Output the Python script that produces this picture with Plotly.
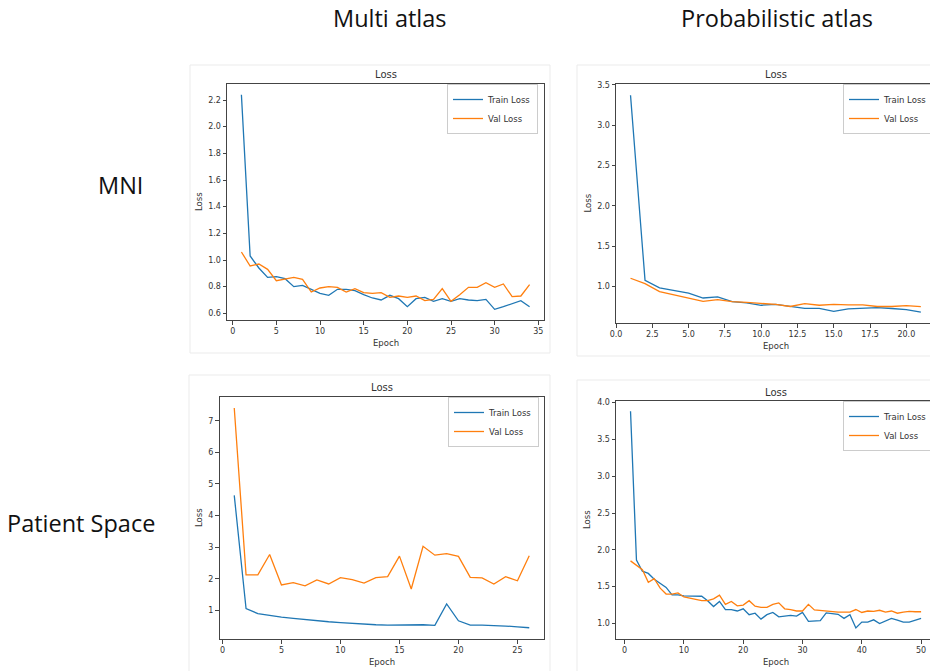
import plotly.graph_objects as go

# ---------------- data ----------------
mni_multi_epochs = list(range(1, 35))
mni_multi_train = [2.24, 1.03, 0.94, 0.87, 0.875, 0.86, 0.80, 0.81, 0.78, 0.75,
                   0.735, 0.78, 0.78, 0.77, 0.74, 0.715, 0.70, 0.735, 0.71, 0.65,
                   0.71, 0.72, 0.69, 0.71, 0.69, 0.71, 0.70, 0.695, 0.705, 0.63,
                   0.65, 0.675, 0.695, 0.65]
mni_multi_val = [1.06, 0.955, 0.97, 0.93, 0.845, 0.86, 0.87, 0.855, 0.76, 0.79,
                 0.80, 0.795, 0.76, 0.785, 0.755, 0.75, 0.755, 0.72, 0.73, 0.72,
                 0.73, 0.695, 0.705, 0.785, 0.69, 0.74, 0.795, 0.795, 0.83, 0.795,
                 0.82, 0.725, 0.73, 0.815]

mni_prob_epochs = list(range(1, 22))
mni_prob_train = [3.37, 1.074, 0.98, 0.945, 0.915, 0.855, 0.87, 0.81, 0.795, 0.765,
                  0.775, 0.75, 0.727, 0.727, 0.69, 0.72, 0.73, 0.735, 0.725, 0.71, 0.68]
mni_prob_val = [1.10, 1.033, 0.934, 0.895, 0.855, 0.814, 0.835, 0.81, 0.80, 0.785,
                0.775, 0.75, 0.785, 0.765, 0.777, 0.77, 0.77, 0.75, 0.75, 0.76, 0.748]

pat_multi_epochs = list(range(1, 27))
pat_multi_train = [4.64, 1.06, 0.905, 0.84, 0.79, 0.75, 0.71, 0.665, 0.645, 0.62,
                   0.59, 0.57, 0.55, 0.54, 0.55, 0.54, 0.55, 0.53, 1.21, 0.675,
                   0.54, 0.54, 0.53, 0.51, 0.485, 0.455]
pat_multi_val = [7.40, 2.13, 2.13, 2.77, 1.81, 1.88, 1.78, 1.965, 1.84, 2.04,
                 1.98, 1.87, 2.04, 2.07, 2.72, 1.68, 3.03, 2.75, 2.80, 2.71,
                 2.05, 2.03, 1.84, 2.07, 1.94, 2.73]

pat_prob_epochs = list(range(1, 51))
pat_prob_train = [3.88, 1.86, 1.71, 1.68, 1.60, 1.55, 1.49, 1.39, 1.39, 1.375,
                  1.375, 1.37, 1.37, 1.31, 1.23, 1.30, 1.19, 1.19, 1.17, 1.20,
                  1.12, 1.14, 1.06, 1.12, 1.15, 1.09, 1.095, 1.11, 1.10, 1.15,
                  1.03, 1.04, 1.04, 1.145, 1.14, 1.125, 1.07, 1.12, 0.94, 1.02,
                  1.02, 1.05, 1.00, 1.035, 1.07, 1.045, 1.02, 1.02, 1.05, 1.07]
pat_prob_val = [1.85, 1.795, 1.73, 1.56, 1.61, 1.48, 1.40, 1.40, 1.415, 1.36,
                1.345, 1.335, 1.31, 1.31, 1.335, 1.385, 1.26, 1.30, 1.24, 1.25,
                1.31, 1.235, 1.22, 1.22, 1.26, 1.28, 1.20, 1.19, 1.17, 1.17,
                1.26, 1.185, 1.175, 1.165, 1.16, 1.155, 1.155, 1.155, 1.19, 1.15,
                1.17, 1.165, 1.18, 1.155, 1.17, 1.14, 1.155, 1.165, 1.16, 1.16]

col_headers = ["Multi atlas", "Probabilistic atlas"]
row_headers = ["MNI", "Patient Space"]
series_names = ["Train Loss", "Val Loss"]
panel_title = "Loss"
x_label = "Epoch"
y_label = "Loss"

BLUE = "#1f77b4"
ORANGE = "#ff7f0e"
W, H = 930, 671


def px_x(v):
    return v / W


def px_y(v):
    return 1 - v / H


fig = go.Figure()

panels = [
    dict(ep=mni_multi_epochs, tr=mni_multi_train, va=mni_multi_val, ax="", leg="legend",
         xdom=(227, 544), ydom=(84, 320), xr=[-0.65, 35.65], yr=[0.55, 2.32],
         xdt=5, x0=0, xfmt="d", ydt=0.2, y0=0.6, yfmt=".1f", mirror_y=True,
         legpos=dict(x=px_x(538), y=px_y(84), xanchor="right", yanchor="top"),
         title_y=75, xlab_y=343, ylab_x=199, box=(190, 65, 550, 353)),
    dict(ep=mni_prob_epochs, tr=mni_prob_train, va=mni_prob_val, ax="2", leg="legend2",
         xdom=(616, 930), ydom=(84, 323), xr=[0, 21.63], yr=[0.545, 3.51],
         xdt=2.5, x0=0, xfmt=".1f", ydt=0.5, y0=1.0, yfmt=".1f", mirror_y=False,
         legpos=dict(x=px_x(843), y=px_y(84), xanchor="left", yanchor="top"),
         title_y=75, xlab_y=346, ylab_x=587, box=(577, 65, 935, 356)),
    dict(ep=pat_multi_epochs, tr=pat_multi_train, va=pat_multi_val, ax="3", leg="legend3",
         xdom=(219.5, 544), ydom=(397, 639), xr=[-0.25, 27.25], yr=[0.10, 7.75],
         xdt=5, x0=0, xfmt="d", ydt=1, y0=1, yfmt="d", mirror_y=True,
         legpos=dict(x=px_x(539), y=px_y(397), xanchor="right", yanchor="top"),
         title_y=387, xlab_y=662, ylab_x=199, box=(189, 375, 550, 675)),
    dict(ep=pat_prob_epochs, tr=pat_prob_train, va=pat_prob_val, ax="4", leg="legend4",
         xdom=(616, 930), ydom=(401, 639), xr=[-1.45, 51.5], yr=[0.79, 4.02],
         xdt=10, x0=0, xfmt="d", ydt=0.5, y0=1.0, yfmt=".1f", mirror_y=False,
         legpos=dict(x=px_x(843), y=px_y(401), xanchor="left", yanchor="top"),
         title_y=392, xlab_y=662, ylab_x=587, box=(577, 380, 935, 675)),
]

tick_font = dict(family="DejaVu Sans", size=8, color="#333333")
label_font = dict(family="DejaVu Sans", size=8.5, color="#333333")
title_font = dict(family="DejaVu Sans", size=10, color="#333333")
header_font = dict(family="Open Sans", size=23.5, color="#111111")

annotations = []
shapes = []
layout_axes = {}

for p in panels:
    xa = "x" + p["ax"]
    ya = "y" + p["ax"]
    fig.add_trace(go.Scatter(x=p["ep"], y=p["tr"], mode="lines", name=series_names[0],
                             line=dict(color=BLUE, width=1.3), xaxis=xa, yaxis=ya,
                             legend=p["leg"]))
    fig.add_trace(go.Scatter(x=p["ep"], y=p["va"], mode="lines", name=series_names[1],
                             line=dict(color=ORANGE, width=1.3), xaxis=xa, yaxis=ya,
                             legend=p["leg"]))
    xkey = "xaxis" + p["ax"]
    ykey = "yaxis" + p["ax"]
    layout_axes[xkey] = dict(
        domain=[px_x(p["xdom"][0]), px_x(p["xdom"][1])], range=p["xr"],
        anchor=ya, showgrid=False, zeroline=False, showline=True, mirror=True,
        linecolor="#444444", linewidth=1, ticks="outside", ticklen=3.5,
        tickcolor="#444444", tickwidth=0.8, tick0=p["x0"], dtick=p["xdt"],
        tickformat=p["xfmt"], tickfont=tick_font, fixedrange=True, automargin=False)
    layout_axes[ykey] = dict(
        domain=[px_y(p["ydom"][1]), px_y(p["ydom"][0])], range=p["yr"],
        anchor=xa, showgrid=False, zeroline=False, showline=True,
        mirror=p["mirror_y"], linecolor="#444444", linewidth=1, ticks="outside",
        ticklen=3.5, tickcolor="#444444", tickwidth=0.8, tick0=p["y0"],
        dtick=p["ydt"], tickformat=p["yfmt"], tickfont=tick_font, fixedrange=True,
        automargin=False)
    fig.update_layout({p["leg"]: dict(
        **p["legpos"], bgcolor="rgba(255,255,255,0.9)", bordercolor="#cccccc",
        borderwidth=1, font=dict(family="DejaVu Sans", size=8.5, color="#333333"),
        itemwidth=30, tracegroupgap=0, traceorder="normal")})

    cx = (p["xdom"][0] + p["xdom"][1]) / 2
    if p["ax"] in ("2", "4"):
        cx = p["xdom"][0] + 160
    annotations.append(dict(text=panel_title, x=px_x(cx), y=px_y(p["title_y"]),
                            xref="paper", yref="paper", showarrow=False,
                            font=title_font, xanchor="center", yanchor="middle"))
    annotations.append(dict(text=x_label, x=px_x(cx), y=px_y(p["xlab_y"]),
                            xref="paper", yref="paper", showarrow=False,
                            font=label_font, xanchor="center", yanchor="middle"))
    annotations.append(dict(text=y_label, x=px_x(p["ylab_x"]),
                            y=px_y((p["ydom"][0] + p["ydom"][1]) / 2),
                            xref="paper", yref="paper", showarrow=False, textangle=-90,
                            font=label_font, xanchor="center", yanchor="middle"))
    bx0, by0, bx1, by1 = p["box"]
    shapes.append(dict(type="rect", xref="paper", yref="paper",
                       x0=px_x(bx0), x1=px_x(bx1), y0=px_y(by1), y1=px_y(by0),
                       line=dict(color="#ebebeb", width=1), layer="below"))

# column / row headers
header_pos = [(col_headers[0], 390, 18), (col_headers[1], 777, 18),
              (row_headers[0], 121, 185), (row_headers[1], 81, 523)]
for txt, hx, hy in header_pos:
    annotations.append(dict(text=txt, x=px_x(hx), y=px_y(hy), xref="paper",
                            yref="paper", showarrow=False, font=header_font,
                            xanchor="center", yanchor="middle"))

fig.update_layout(
    width=W, height=H, autosize=False,
    margin=dict(l=0, r=0, t=0, b=0, pad=0, autoexpand=False),
    paper_bgcolor="white", plot_bgcolor="white", showlegend=True,
    annotations=annotations, shapes=shapes, **layout_axes)

post_js = (
    "document.body.style.margin='0px';"
    "document.body.style.padding='0px';"
    "document.body.style.overflow='hidden';"
    "document.documentElement.style.overflow='hidden';"
    "Plotly.relayout('{plot_id}', {width: 930, height: 671});"
)

fig.write_html("out.html", config={"displayModeBar": False, "responsive": False},
               post_script=post_js)
